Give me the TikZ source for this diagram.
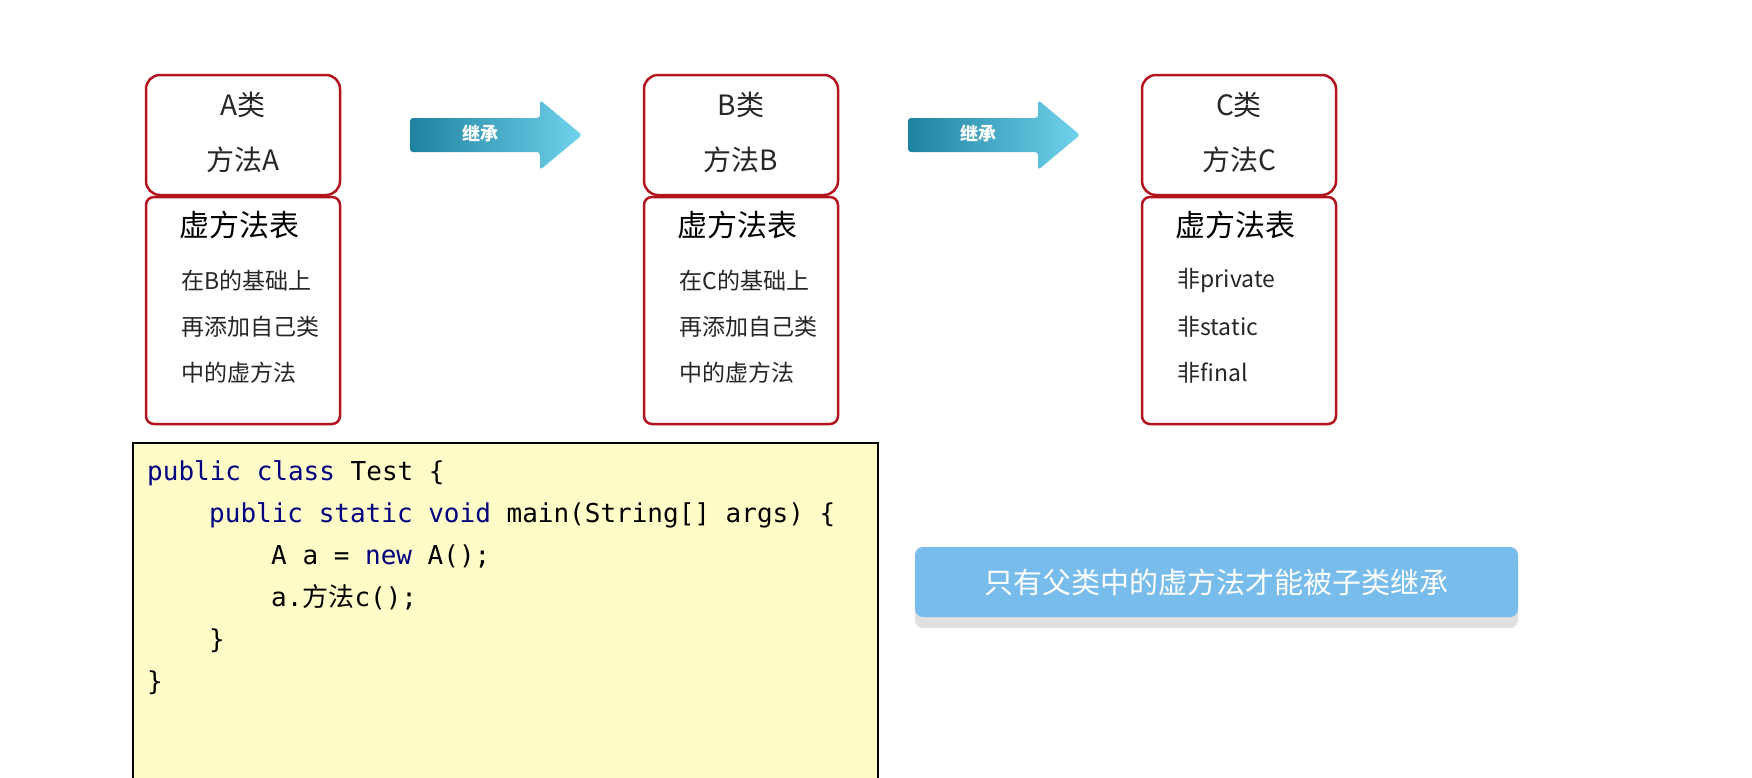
\documentclass[tikz,border=0pt]{standalone}
\usepackage{fontspec}
\setmainfont{Noto Sans CJK SC}
\newfontfamily\codefont{DejaVu Sans Mono}
\newfontfamily\cjk{Noto Sans CJK SC}
\definecolor{boxred}{RGB}{180,20,30}
\definecolor{ardark}{RGB}{30,130,160}
\definecolor{arlight}{RGB}{112,210,236}
\definecolor{banner}{RGB}{120,188,236}
\definecolor{kwblue}{RGB}{0,0,128}
\begin{document}
\begin{tikzpicture}[x=1pt,y=-1pt,
  redbox/.style={draw=boxred,line width=2.5pt,rounded corners=14pt},
  tbox/.style={draw=boxred,line width=2.5pt,rounded corners=8pt},
  big/.style={font=\fontsize{28}{30}\selectfont,text=black!85},
  sub/.style={font=\fontsize{23}{26}\selectfont,text=black!85,anchor=west},
  code/.style={font=\codefont\fontsize{26}{30}\selectfont,anchor=base west,inner sep=0pt}]
\useasboundingbox (0,0) rectangle (1752,777);
\fill[white] (0,0) rectangle (1752,777);
\foreach \n/\x/\L in {A/146/A,B/644/B,C/1142/C}{
  \draw[redbox] (\x,75) rectangle ++(194,120);
  \draw[tbox] (\x,197) rectangle ++(194,227);
  \node[big] (\n t) at (\x+97,105) {\L 类};
  \node[big] (\n m) at (\x+97,160) {方法\L};
  \node[font=\fontsize{30}{32}\selectfont,text=black,anchor=west] (\n v) at (\x+30,225) {虚方法表};
}
\node[sub] (a1) at (178,281) {在B的基础上};
\node[sub] (a2) at (178,327) {再添加自己类};
\node[sub] (a3) at (178,373) {中的虚方法};
\node[sub] (b1) at (676,281) {在C的基础上};
\node[sub] (b2) at (676,327) {再添加自己类};
\node[sub] (b3) at (676,373) {中的虚方法};
\node[sub] (c1) at (1174,281) {非private};
\node[sub] (c2) at (1174,327) {非static};
\node[sub] (c3) at (1174,373) {非final};
\foreach \x/\n in {410/ar1,908/ar2}{
  \shade[left color=ardark, right color=arlight, shading angle=90]
    [rounded corners=3pt] (\x,118) -- (\x+130,118) -- (\x+130,100) -- (\x+172,135) -- (\x+130,170) -- (\x+130,152) -- (\x,152) -- cycle;
  \node[text=white,font=\bfseries\fontsize{18}{20}\selectfont] (\n) at (\x+70,134) {继承};
}
\draw[fill=yellow!22,line width=1.3pt] (133,443) rectangle (878,790);
\node[code] (l1) at (147,480) {\textcolor{kwblue}{public class} Test \{};
\node[code] (l2) at (209,522) {\textcolor{kwblue}{public static void} main(String[] args) \{};
\node[code] (l3) at (271,564) {A a = \textcolor{kwblue}{new} A();};
\node[code] (l4) at (271,606) {a.{\cjk 方法}c();};
\node[code] (l5) at (209,648) {\}};
\node[code] (l6) at (147,690) {\}};
\fill[black!12,rounded corners=8pt] (915,558) rectangle (1518,628);
\fill[banner,rounded corners=8pt] (915,547) rectangle (1518,617);
\node[text=white,font=\fontsize{29}{32}\selectfont] (msg) at (1216,582) {只有父类中的虚方法才能被子类继承};
\end{tikzpicture}
\end{document}
